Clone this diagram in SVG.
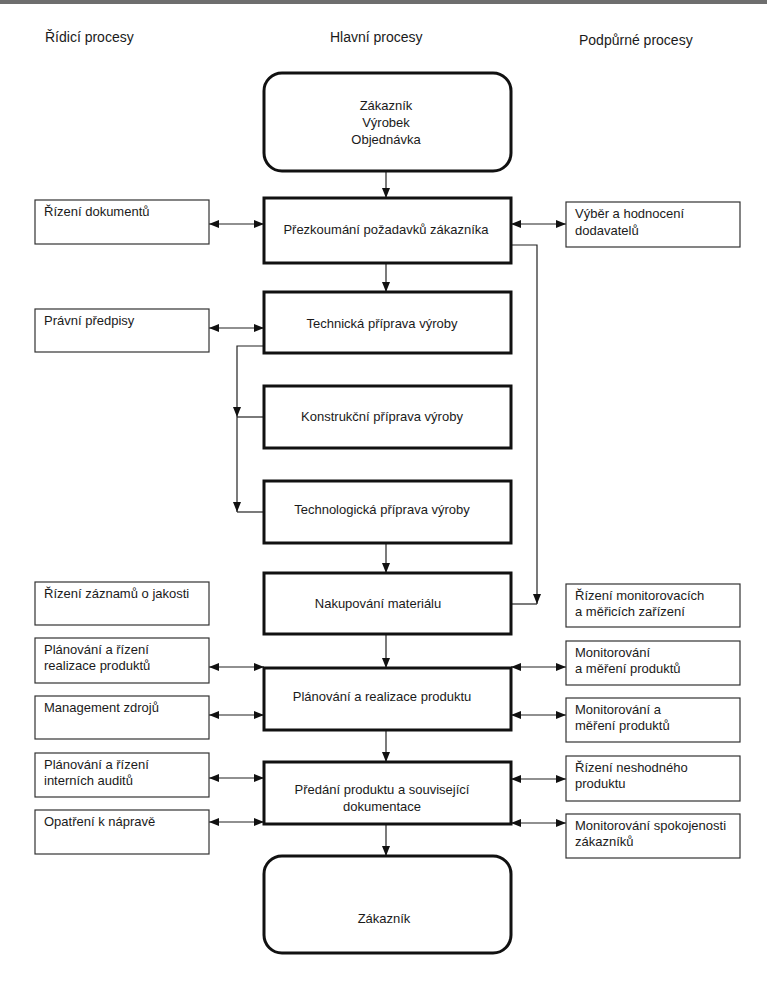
<svg xmlns="http://www.w3.org/2000/svg" width="767" height="981" viewBox="0 0 767 981">
<style>
text{font-family:"Liberation Sans",Arial,sans-serif;font-size:13px;fill:#1a1a1a}
.hdr{font-size:14px}
.c{text-anchor:middle}
.main{fill:#fff;stroke:#111;stroke-width:3}
.side{fill:#fff;stroke:#333;stroke-width:1.2}
.ln{fill:none;stroke:#222;stroke-width:1.2}
.ar{fill:none;stroke:#222;stroke-width:1.2;marker-end:url(#ah)}
.da{fill:none;stroke:#222;stroke-width:1.2;marker-start:url(#ah);marker-end:url(#ah)}
</style>
<defs>
<marker id="ah" markerUnits="userSpaceOnUse" markerWidth="10" markerHeight="10" viewBox="0 0 10 10" refX="10" refY="5" orient="auto-start-reverse">
<path d="M0,1 L10,5 L0,9 Z" fill="#111"/>
</marker>
</defs>
<rect x="0" y="0" width="767" height="4" fill="#6e6e6e"/>
<g id="headers">
<text class="hdr" x="45" y="42">Řídicí procesy</text>
<text class="hdr" x="330" y="42">Hlavní procesy</text>
<text class="hdr" x="579" y="45">Podpůrné procesy</text>
</g>
<g id="connectors">
<path class="ar" d="M386 171 V198"/>
<path class="ar" d="M386 263 V292"/>
<path class="ar" d="M386 543 V573"/>
<path class="ar" d="M386 634 V668"/>
<path class="ar" d="M386 730 V762"/>
<path class="ar" d="M386 824 V856"/>
<path class="ar" d="M264 346 H237 V417"/>
<path class="ln" d="M237 417 H264"/>
<path class="ar" d="M237 417 V512"/>
<path class="ln" d="M237 512 H264"/>
<path class="ar" d="M511 245 H537 V604"/>
<path class="ln" d="M511 604 H537"/>
<path class="da" d="M209 224 H264"/>
<path class="da" d="M209 328 H264"/>
<path class="da" d="M209 667 H264"/>
<path class="da" d="M209 715 H264"/>
<path class="da" d="M209 778 H264"/>
<path class="da" d="M209 822 H264"/>
<path class="da" d="M511 224 H566"/>
<path class="da" d="M511 667 H566"/>
<path class="da" d="M511 715 H566"/>
<path class="da" d="M511 779 H566"/>
<path class="da" d="M511 823 H566"/>
</g>
<g id="zakaznik-top"><rect class="main" x="264" y="73" width="247" height="98" rx="18"/>
<text class="c" x="386" y="110">Zákazník</text><text class="c" x="386" y="127">Výrobek</text><text class="c" x="386" y="144">Objednávka</text></g>
<g id="prezkoumani"><rect class="main" x="264" y="198" width="247" height="65"/><text class="c" x="386" y="234">Přezkoumání požadavků zákazníka</text></g>
<g id="technicka"><rect class="main" x="264" y="292" width="247" height="61"/><text class="c" x="382" y="328">Technická příprava výroby</text></g>
<g id="konstrukcni"><rect class="main" x="264" y="386" width="247" height="62"/><text class="c" x="382" y="421">Konstrukční příprava výroby</text></g>
<g id="technologicka"><rect class="main" x="264" y="481" width="247" height="62"/><text class="c" x="382" y="514">Technologická příprava výroby</text></g>
<g id="nakupovani"><rect class="main" x="264" y="573" width="247" height="61"/><text class="c" x="378" y="608">Nakupování materiálu</text></g>
<g id="planovani-realizace"><rect class="main" x="264" y="668" width="247" height="62"/><text class="c" x="382" y="701">Plánování a realizace produktu</text></g>
<g id="predani"><rect class="main" x="264" y="762" width="247" height="62"/><text class="c" x="382" y="794">Předání produktu a související</text><text class="c" x="382" y="811">dokumentace</text></g>
<g id="zakaznik-bottom"><rect class="main" x="264" y="856" width="247" height="97" rx="18"/><text class="c" x="384" y="923">Zákazník</text></g>
<g id="l-dokumenty"><rect class="side" x="35" y="200" width="174" height="44"/><text x="44" y="216">Řízení dokumentů</text></g>
<g id="l-pravni"><rect class="side" x="35" y="309" width="174" height="43"/><text x="44" y="325">Právní předpisy</text></g>
<g id="l-zaznamy"><rect class="side" x="35" y="582" width="174" height="43"/><text x="44" y="598">Řízení záznamů o jakosti</text></g>
<g id="l-planovani-realizace"><rect class="side" x="35" y="638" width="174" height="45"/><text x="44" y="654">Plánování a řízení</text><text x="44" y="670">realizace produktů</text></g>
<g id="l-management"><rect class="side" x="35" y="696" width="174" height="43"/><text x="44" y="712">Management zdrojů</text></g>
<g id="l-audity"><rect class="side" x="35" y="753" width="174" height="44"/><text x="44" y="769">Plánování a řízení</text><text x="44" y="785">interních auditů</text></g>
<g id="l-naprava"><rect class="side" x="35" y="810" width="174" height="44"/><text x="44" y="826">Opatření k nápravě</text></g>
<g id="r-dodavatele"><rect class="side" x="566" y="202" width="174" height="45"/><text x="575" y="218">Výběr a hodnocení</text><text x="575" y="235">dodavatelů</text></g>
<g id="r-zarizeni"><rect class="side" x="566" y="584" width="174" height="43"/><text x="575" y="600">Řízení monitorovacích</text><text x="575" y="616">a měřicích zařízení</text></g>
<g id="r-monitorovani1"><rect class="side" x="566" y="641" width="174" height="44"/><text x="575" y="657">Monitorování</text><text x="575" y="673">a měření produktů</text></g>
<g id="r-monitorovani2"><rect class="side" x="566" y="698" width="174" height="44"/><text x="575" y="714">Monitorování a</text><text x="575" y="730">měření produktů</text></g>
<g id="r-neshodny"><rect class="side" x="566" y="756" width="174" height="45"/><text x="575" y="772">Řízení neshodného</text><text x="575" y="788">produktu</text></g>
<g id="r-spokojenost"><rect class="side" x="566" y="814" width="174" height="44"/><text x="575" y="830">Monitorování spokojenosti</text><text x="575" y="846">zákazníků</text></g>
</svg>
